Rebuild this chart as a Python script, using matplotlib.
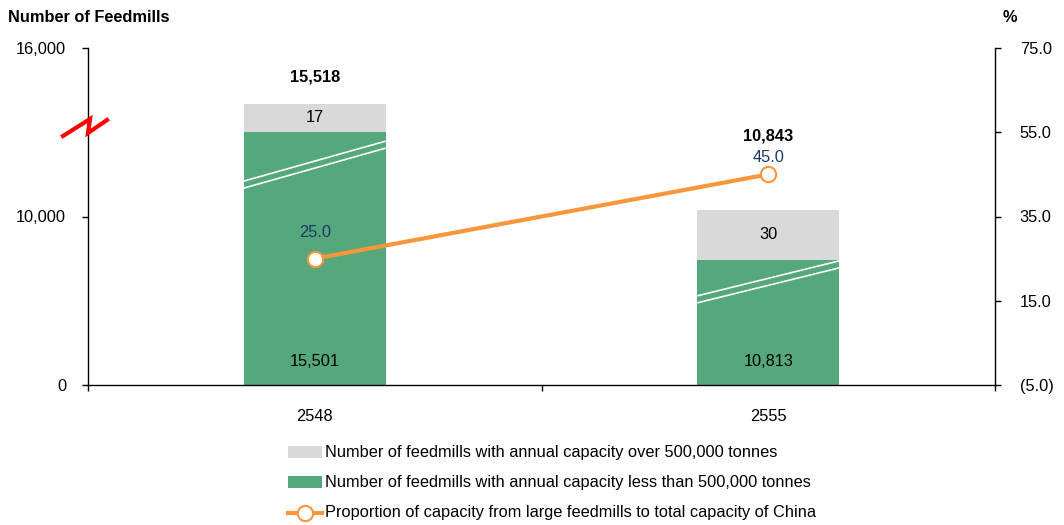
import matplotlib
matplotlib.use("Agg")
import matplotlib.pyplot as plt
from matplotlib.lines import Line2D
from matplotlib.patches import Rectangle
import numpy as np

plt.rcParams['font.family'] = ['Liberation Sans', 'DejaVu Sans']

# ---- data ----
years = ['2548', '2555']
small_mills = [15501, 10813]          # capacity < 500,000 t
large_mills = [17, 30]                # capacity > 500,000 t
total_mills = [15518, 10843]
large_share = [25.0, 45.0]            # % of national capacity

left_ticks = [0, 10000, 16000]
right_ticks = [-5.0, 15.0, 35.0, 55.0, 75.0]

legend_labels = [
    'Number of feedmills with annual capacity over 500,000 tonnes',
    'Number of feedmills with annual capacity less than 500,000 tonnes',
    'Proportion of capacity from large feedmills to total capacity of China',
]

# ---- style ----
GREEN = '#55A87B'
GRAY = '#D9D9D9'
ORANGE = '#F7963A'
NAVY = '#1F3864'
FS = 11.75

# bar display: the green bars are cut at the axis break, the small
# large-mill segment is enlarged so it stays readable
BROKEN_SPAN = 6220
LARGE_SCALE = 61
BAR_TOP = 12368

W, H = 1064, 525
fig = plt.figure(figsize=(W / 100, H / 100), dpi=100, facecolor='white')
rect = [88 / W, 140 / H, 907 / W, 337 / H]

axb = fig.add_axes(rect, zorder=1)
axr = fig.add_axes(rect, zorder=2, sharex=axb)
ax = fig.add_axes(rect, zorder=3, sharex=axb)
for a in (axr, ax):
    a.patch.set_visible(False)

x = np.arange(len(years))
axb.set_xlim(-0.5, len(years) - 0.5)

# ---- bars ----
green_h = np.array(small_mills) - BROKEN_SPAN
gray_h = np.array(large_mills) * LARGE_SCALE
bw = 0.313
axb.bar(x, green_h, width=bw, color=GREEN, linewidth=0)
axb.bar(x, gray_h, width=bw, bottom=green_h, color=GRAY, linewidth=0)
axb.set_ylim(0, BAR_TOP)
axb.axis('off')

px = BAR_TOP / 337.0  # data units per pixel on the bar axis
# break marks inside the green bars (drop from right edge, drop from left edge)
break_marks = [(9, 49), (1, 36)]
for xi, gh, (dr, dl) in zip(x, green_h, break_marks):
    for off in (0, 7):
        axb.plot([xi - bw / 2, xi + bw / 2],
                 [gh - (dl + off) * px, gh - (dr + off) * px],
                 color='white', lw=1.2, solid_capstyle='butt', zorder=3)

for xi, gh, gy, n_small, n_large, tot, toff in zip(
        x, green_h, gray_h, small_mills, large_mills, total_mills, [27, 74]):
    axb.text(xi, gh + gy / 2, f'{n_large}', ha='center', va='center',
             fontsize=FS, color='black')
    axb.text(xi, 23 * px, f'{n_small:,}', ha='center', va='center',
             fontsize=FS, color='black')
    axb.annotate(f'{tot:,}', (xi, gh + gy), xytext=(0, toff * 0.72),
                 textcoords='offset points', ha='center', va='center',
                 fontsize=FS, fontweight='bold', color='black')

# ---- line (right axis) ----
axr.plot(x, large_share, color=ORANGE, lw=3, marker='o', ms=11,
         mfc='white', mec=ORANGE, mew=1.5, zorder=5)
for xi, v, off in zip(x, large_share, [26, 17]):
    axr.annotate(f'{v:.1f}', (xi, v), xytext=(0, off * 0.72),
                 textcoords='offset points', ha='center', va='center',
                 fontsize=FS, color=NAVY)
axr.set_ylim(right_ticks[0], right_ticks[-1])
axr.set_yticks(right_ticks)
axr.set_yticklabels([f'({abs(t):.1f})' if t < 0 else f'{t:.1f}' for t in right_ticks])
axr.yaxis.tick_right()
axr.tick_params(axis='y', direction='out', length=4.3, width=1, pad=13.5,
                labelsize=FS)
axr.tick_params(axis='x', bottom=False, labelbottom=False)
for s in ('top', 'left', 'bottom'):
    axr.spines[s].set_visible(False)
axr.spines['right'].set_linewidth(1)

# ---- left (broken) count axis ----
ax.set_ylim(0, len(left_ticks) - 1)
ax.set_yticks(range(len(left_ticks)))
ax.set_yticklabels([f'{t:,}' for t in left_ticks])
ax.tick_params(axis='y', direction='out', length=4.3, width=1, pad=11.5,
               labelsize=FS)
ax.set_xticks(x)
ax.set_xticklabels(years)
ax.tick_params(axis='x', which='major', length=0, pad=17, labelsize=FS)
ax.set_xticks(np.arange(-0.5, len(years), 1.0), minor=True)
ax.tick_params(axis='x', which='minor', direction='out', length=4.3, width=1)
for s in ('top', 'right'):
    ax.spines[s].set_visible(False)
for s in ('left', 'bottom'):
    ax.spines[s].set_linewidth(1)

# axis-break zigzag on the left spine
zx = np.array([63, 90, 88, 107]) / W
zy = 1 - np.array([136, 119, 133, 120]) / H
fig.add_artist(Line2D(zx, zy, color='#FF0000', lw=3, transform=fig.transFigure,
                      zorder=10, solid_joinstyle='miter'))

# axis titles
fig.text(8 / W, 1 - 18 / H, 'Number of Feedmills', ha='left', va='center',
         fontsize=FS, fontweight='bold')
fig.text(1010 / W, 1 - 18 / H, '%', ha='center', va='center',
         fontsize=FS, fontweight='bold')

# ---- legend ----
rows = [452, 482, 513]
for i, (lab, yy) in enumerate(zip(legend_labels, rows)):
    yc = 1 - yy / H
    if i < 2:
        fig.add_artist(Rectangle((288 / W, yc - 6 / H), 34 / W, 12 / H,
                                 color=[GRAY, GREEN][i], lw=0,
                                 transform=fig.transFigure))
    else:
        fig.add_artist(Line2D([288 / W, 322 / W], [yc, yc], color=ORANGE, lw=3,
                              transform=fig.transFigure))
        fig.add_artist(Line2D([305 / W], [yc], marker='o', ms=11, mfc='white',
                              mec=ORANGE, mew=1.5, transform=fig.transFigure))
    fig.text(325 / W, yc, lab, ha='left', va='center', fontsize=FS)

fig.savefig('out.png', dpi=100, facecolor='white')
